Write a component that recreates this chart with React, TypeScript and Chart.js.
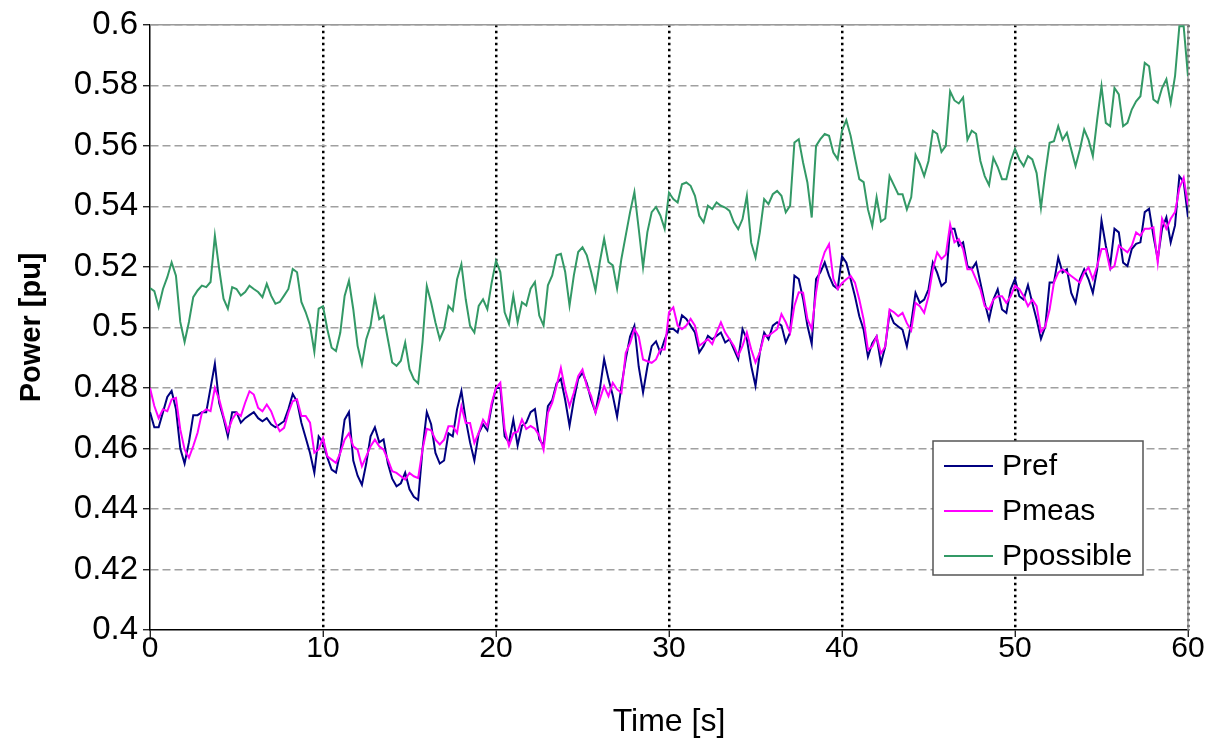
import React, { useEffect, useRef } from "react";
import { Chart, registerables } from "chart.js";

Chart.register(...registerables);

// Sampling step of the time axis (seconds)
const STEP = 0.25;

// Pref [pu], one value every 0.25 s from 0 to 60 s
const PREF = [
  0.472, 0.467, 0.467, 0.472, 0.477, 0.479, 0.473, 0.460, 0.455, 0.462,
  0.471, 0.471, 0.472, 0.472, 0.480, 0.488, 0.475, 0.470, 0.464, 0.472,
  0.472, 0.4685, 0.470, 0.471, 0.472, 0.470, 0.469, 0.470, 0.468, 0.467,
  0.468, 0.469, 0.473, 0.478, 0.4755, 0.4685, 0.4635, 0.4585, 0.452, 0.464,
  0.462,
  0.457, 0.453, 0.452, 0.459, 0.4695, 0.472, 0.456, 0.451, 0.448, 0.455,
  0.464, 0.467, 0.462, 0.463, 0.455, 0.450, 0.4475, 0.4485, 0.452, 0.4465,
  0.444, 0.443, 0.4595, 0.472, 0.468, 0.4585, 0.455, 0.456, 0.465, 0.464,
  0.473, 0.479, 0.4695, 0.462, 0.456, 0.465, 0.468, 0.466, 0.474, 0.480,
  0.480, 0.464, 0.462, 0.4695, 0.461, 0.4675, 0.4685, 0.472, 0.473, 0.463,
  0.461, 0.474, 0.476, 0.4815, 0.483, 0.476, 0.4675, 0.476, 0.483, 0.485,
  0.4815, 0.476, 0.472, 0.4795, 0.4895, 0.483, 0.4775, 0.4705, 0.4805, 0.4895,
  0.497, 0.5005, 0.487, 0.4785, 0.487, 0.4938, 0.4954, 0.4916, 0.496, 0.4995,
  0.4995, 0.4983, 0.504, 0.5028, 0.5006, 0.4983, 0.4917, 0.4939, 0.4972, 0.4961,
  0.4972, 0.4983, 0.495, 0.4961, 0.4928, 0.4895, 0.4994, 0.4961, 0.4873, 0.4807,
  0.4917, 0.4983, 0.4961, 0.5006, 0.5017, 0.5006, 0.495, 0.4983, 0.5171, 0.516,
  0.5094, 0.5006, 0.4945, 0.516, 0.5182, 0.5215, 0.5171, 0.5138, 0.5127, 0.5235,
  0.5214, 0.5159, 0.5103, 0.5037, 0.4992, 0.4903, 0.4948, 0.497, 0.4881, 0.4937,
  0.5048, 0.5014, 0.5003, 0.4992, 0.4937, 0.5014, 0.5114, 0.5081, 0.5092, 0.5126,
  0.5214, 0.5181, 0.5137, 0.515, 0.5326, 0.5326, 0.527, 0.5281, 0.5203, 0.5192,
  0.5214, 0.5148, 0.5081, 0.5026, 0.5092, 0.5126, 0.5059, 0.5048, 0.5126, 0.516,
  0.5103, 0.5092, 0.514, 0.5081, 0.5026, 0.4962, 0.5003, 0.5148, 0.5148, 0.5231,
  0.5181, 0.5192, 0.5114, 0.5081, 0.5159, 0.5192, 0.5159, 0.5114, 0.5192, 0.5353,
  0.527, 0.5203, 0.5326, 0.5314, 0.5214, 0.5203, 0.5259, 0.5276, 0.5281, 0.5381,
  0.5392, 0.5303, 0.5226, 0.5326, 0.5364, 0.5281, 0.5337, 0.550, 0.5481, 0.5364,
];

// Pmeas [pu]
const PMEAS = [
  0.480, 0.474, 0.470, 0.4729, 0.4723, 0.4762, 0.4767, 0.4663, 0.4597, 0.4569,
  0.4608, 0.4652, 0.4718, 0.4729, 0.4723, 0.480, 0.4762, 0.4707, 0.4657, 0.4696,
  0.4718, 0.4707, 0.4751, 0.4789, 0.4778, 0.4734, 0.4723, 0.4745, 0.4723, 0.4685,
  0.4657, 0.4668, 0.4718, 0.4756, 0.4762, 0.4707, 0.4707, 0.4685, 0.4586, 0.4597,
  0.4635,
  0.4574, 0.4563, 0.4552, 0.4585, 0.4629, 0.465, 0.4607, 0.4596, 0.4541, 0.4574,
  0.4607, 0.4629, 0.4607, 0.4596, 0.4563, 0.4525, 0.4519, 0.4508, 0.4497, 0.4519,
  0.4508, 0.4502, 0.4596, 0.4665, 0.466, 0.4629, 0.4613, 0.4629, 0.4673, 0.4673,
  0.4651, 0.4739, 0.4684, 0.4684, 0.4618, 0.4651, 0.4695, 0.4673, 0.475, 0.480,
  0.4817, 0.4664, 0.4609, 0.465, 0.4655, 0.4696, 0.4664, 0.4674, 0.4665, 0.4642,
  0.4595, 0.4718, 0.4751, 0.4806, 0.4866, 0.4795, 0.474, 0.4784, 0.4839, 0.4861,
  0.4806, 0.4773, 0.4718, 0.4762, 0.4806, 0.4773, 0.4817, 0.4795, 0.4784, 0.4916,
  0.4948, 0.4995, 0.497, 0.4894, 0.4888, 0.4883, 0.4894, 0.4927, 0.4927, 0.505,
  0.5066, 0.5006, 0.4994, 0.5006, 0.5028, 0.5006, 0.4939, 0.495, 0.4961, 0.4945,
  0.4983, 0.5017, 0.4983, 0.4961, 0.4939, 0.4906, 0.4939, 0.4983, 0.4928, 0.4884,
  0.4917, 0.4972, 0.4972, 0.4983, 0.4994, 0.5044, 0.5017, 0.4983, 0.5072, 0.5116,
  0.5115, 0.5028, 0.4995, 0.5116, 0.5204, 0.5249, 0.5275, 0.516, 0.5127, 0.5146,
  0.5159, 0.517, 0.5148, 0.5092, 0.5026, 0.4926, 0.4937, 0.497, 0.4914, 0.4937,
  0.5059, 0.505, 0.5037, 0.5048, 0.5014, 0.499, 0.5081, 0.507, 0.5048, 0.5103,
  0.5192, 0.5248, 0.5226, 0.524, 0.534, 0.5281, 0.5292, 0.5259, 0.5192, 0.5192,
  0.5159, 0.5126, 0.507, 0.5059, 0.5092, 0.5103, 0.5103, 0.5081, 0.5103, 0.5138,
  0.5126, 0.5103, 0.507, 0.5092, 0.507, 0.4985, 0.5003, 0.5059, 0.5148, 0.5181,
  0.5192, 0.5181, 0.517, 0.5159, 0.5148, 0.5181, 0.5198, 0.5159, 0.5203, 0.5259,
  0.5259, 0.5192, 0.5203, 0.527, 0.5259, 0.5248, 0.527, 0.5314, 0.5303, 0.5326,
  0.5326, 0.5331, 0.5214, 0.5359, 0.5326, 0.5359, 0.5381, 0.546, 0.5495, 0.5403,
];

// Ppossible [pu]
const PPOSSIBLE = [
  0.513, 0.512, 0.5067, 0.5127, 0.5166, 0.5215, 0.5171, 0.5018, 0.4952, 0.5018,
  0.510, 0.5122, 0.5138, 0.5133, 0.515, 0.5303, 0.5193, 0.5095, 0.5062, 0.5133,
  0.5127, 0.5105, 0.5117, 0.5138, 0.5127, 0.5117, 0.510, 0.5144, 0.5105, 0.5078,
  0.5084, 0.5105, 0.5127, 0.5193, 0.5182, 0.5084, 0.505, 0.5007, 0.4919, 0.5062,
  0.507,
  0.4994, 0.4933, 0.4922, 0.4983, 0.5104, 0.5154, 0.506, 0.4939, 0.4878, 0.4961,
  0.5005, 0.5099, 0.5027, 0.5038, 0.4961, 0.4884, 0.4873, 0.489, 0.495, 0.4862,
  0.4829, 0.4815, 0.495, 0.5137, 0.5082, 0.5016, 0.4961, 0.4994, 0.5071, 0.5055,
  0.5159, 0.5209, 0.5093, 0.5005, 0.4983, 0.5071, 0.5093, 0.506, 0.5148, 0.522,
  0.5183, 0.505, 0.5012, 0.5105, 0.5017, 0.5083, 0.5072, 0.5128, 0.515, 0.5039,
  0.5006, 0.5139, 0.5172, 0.5238, 0.5243, 0.5183, 0.5072, 0.5172, 0.5249, 0.5265,
  0.5238, 0.5183, 0.5122, 0.5216, 0.5293, 0.5216, 0.5205, 0.5128, 0.5227, 0.5304,
  0.5381, 0.5447, 0.5326, 0.5199, 0.5315, 0.5381, 0.5398, 0.537, 0.5326, 0.5445,
  0.5424, 0.5413, 0.5473, 0.5479, 0.5468, 0.5435, 0.5369, 0.5347, 0.5402, 0.5391,
  0.5413, 0.5402, 0.5396, 0.5385, 0.5347, 0.5325, 0.5358, 0.5435, 0.528, 0.5231,
  0.5314, 0.5424, 0.5407, 0.544, 0.5451, 0.5435, 0.538, 0.5402, 0.5611, 0.5622,
  0.5545, 0.5479, 0.5363, 0.56, 0.5622, 0.5639, 0.5633, 0.5578, 0.5556, 0.565,
  0.5685, 0.5633, 0.556, 0.549, 0.548, 0.539, 0.5335, 0.543, 0.535, 0.536,
  0.550, 0.547, 0.544, 0.544, 0.539, 0.543, 0.557, 0.554, 0.550, 0.555,
  0.565, 0.564, 0.558, 0.560, 0.578, 0.575, 0.574, 0.576, 0.562, 0.565,
  0.564, 0.555, 0.550, 0.547, 0.556, 0.553, 0.549, 0.549, 0.555, 0.559,
  0.5555, 0.5533, 0.5566, 0.5555, 0.551, 0.5395, 0.551, 0.561, 0.5615, 0.5665,
  0.562, 0.5643, 0.5588, 0.5533, 0.5588, 0.5654, 0.562, 0.5566, 0.5687, 0.5797,
  0.5676, 0.5665, 0.5791, 0.577, 0.5665, 0.5676, 0.572, 0.5747, 0.5764, 0.5874,
  0.5863, 0.5753, 0.5742, 0.5791, 0.582, 0.5742, 0.583, 0.5995, 0.5995, 0.583,
];

const TIME = PREF.map((_, i) => i * STEP);

const SERIES_LABELS = ["Pref", "Pmeas", "Ppossible"];
const SERIES_COLORS = ["#000080", "#FF00FF", "#339966"];

const X_TICKS = [0, 10, 20, 30, 40, 50, 60];
const Y_TICKS = [0.4, 0.42, 0.44, 0.46, 0.48, 0.5, 0.52, 0.54, 0.56, 0.58, 0.6];

const X_TITLE = "Time [s]";
const Y_TITLE = "Power [pu]";

const FONT = "'Liberation Sans', Arial, Helvetica, sans-serif";

export default function App() {
  const canvasRef = useRef<HTMLCanvasElement | null>(null);

  useEffect(() => {
    document.body.style.margin = "0";
    const canvas = canvasRef.current;
    if (!canvas) return;

    const toPoints = (arr: number[]) => arr.map((y, i) => ({ x: TIME[i], y }));
    const seriesData = [PREF, PMEAS, PPOSSIBLE];

    const framePlugin = {
      id: "frame",
      beforeDatasetsDraw(chart: any) {
        const { ctx, chartArea: a } = chart;
        ctx.save();
        ctx.strokeStyle = "#9a9a9a";
        ctx.lineWidth = 1.5;
        ctx.beginPath();
        ctx.moveTo(a.left, a.top);
        ctx.lineTo(a.right, a.top);
        ctx.lineTo(a.right, a.bottom);
        ctx.stroke();
        ctx.restore();
      },
    };

    const legendPlugin = {
      id: "boxLegend",
      afterDraw(chart: any) {
        const { ctx, chartArea: a } = chart;
        const w = 210;
        const h = 134;
        const x0 = a.right - 45 - w;
        const y0 = a.bottom - 55 - h;
        ctx.save();
        ctx.fillStyle = "#ffffff";
        ctx.fillRect(x0, y0, w, h);
        ctx.strokeStyle = "#555555";
        ctx.lineWidth = 1.5;
        ctx.strokeRect(x0, y0, w, h);
        ctx.font = `30px ${FONT}`;
        ctx.textBaseline = "middle";
        ctx.textAlign = "left";
        chart.data.datasets.forEach((ds: any, i: number) => {
          const y = y0 + 25 + i * 45;
          ctx.strokeStyle = ds.borderColor;
          ctx.lineWidth = 2;
          ctx.beginPath();
          ctx.moveTo(x0 + 11, y);
          ctx.lineTo(x0 + 60, y);
          ctx.stroke();
          ctx.fillStyle = "#000";
          ctx.fillText(ds.label, x0 + 69, y + 1);
        });
        ctx.restore();
      },
    };

    const chart = new Chart(canvas, {
      type: "line",
      data: {
        datasets: seriesData.map((arr, i) => ({
          label: SERIES_LABELS[i],
          data: toPoints(arr),
          borderColor: SERIES_COLORS[i],
          backgroundColor: SERIES_COLORS[i],
          borderWidth: 2,
          pointRadius: 0,
          tension: 0,
          fill: false,
          order: 2 - i,
        })),
      },
      options: {
        animation: false,
        responsive: false,
        events: [],
        layout: { padding: { top: 22, right: 20, left: 0, bottom: 0 } },
        plugins: { legend: { display: false }, tooltip: { enabled: false } },
        scales: {
          x: {
            type: "linear",
            min: 0,
            max: 60,
            afterBuildTicks: (scale: any) => {
              scale.ticks = X_TICKS.map((v) => ({ value: v }));
            },
            afterFit: (scale: any) => {
              scale.height = 116;
            },
            ticks: {
              autoSkip: false,
              maxRotation: 0,
              color: "#000",
              padding: -3,
              font: { family: FONT, size: 30, lineHeight: 1 },
            },
            grid: {
              color: (c: any) => (c.tick && c.tick.value === 0 ? "rgba(0,0,0,0)" : "#000"),
              lineWidth: 2.5,
              tickColor: "#000",
              tickWidth: 1.2,
              tickLength: 7,
              tickBorderDash: [],
            },
            border: { display: true, color: "#000", width: 1.5, dash: [2.5, 3.5] },
            title: {
              display: true,
              text: X_TITLE,
              color: "#000",
              font: { family: FONT, size: 32 },
              padding: { top: 0, bottom: 5 },
            },
          },
          y: {
            type: "linear",
            min: 0.4,
            max: 0.6,
            afterBuildTicks: (scale: any) => {
              scale.ticks = Y_TICKS.map((v) => ({ value: v }));
            },
            afterFit: (scale: any) => {
              scale.width = 150;
            },
            ticks: {
              color: "#000",
              padding: 5,
              font: { family: FONT, size: 33 },
              callback: (v: any) => String(parseFloat(Number(v).toFixed(2))),
            },
            grid: {
              color: (c: any) =>
                c.tick && Math.abs(c.tick.value - 0.4) < 1e-9 ? "rgba(0,0,0,0)" : "#a0a0a0",
              lineWidth: 1.5,
              tickColor: "#000",
              tickWidth: 1.2,
              tickLength: 7,
              tickBorderDash: [],
            },
            border: { display: true, color: "#000", width: 1.5, dash: [8, 4] },
            title: {
              display: true,
              text: Y_TITLE,
              color: "#000",
              font: { family: FONT, size: 29, weight: "bold" },
              padding: { top: 15, bottom: 0 },
            },
          },
        },
      },
      plugins: [framePlugin, legendPlugin],
    } as any);

    return () => {
      chart.destroy();
    };
  }, []);

  return (
    <div style={{ width: 1208, height: 746, background: "#fff" }}>
      <canvas ref={canvasRef} width={1208} height={746} style={{ display: "block" }} />
    </div>
  );
}
